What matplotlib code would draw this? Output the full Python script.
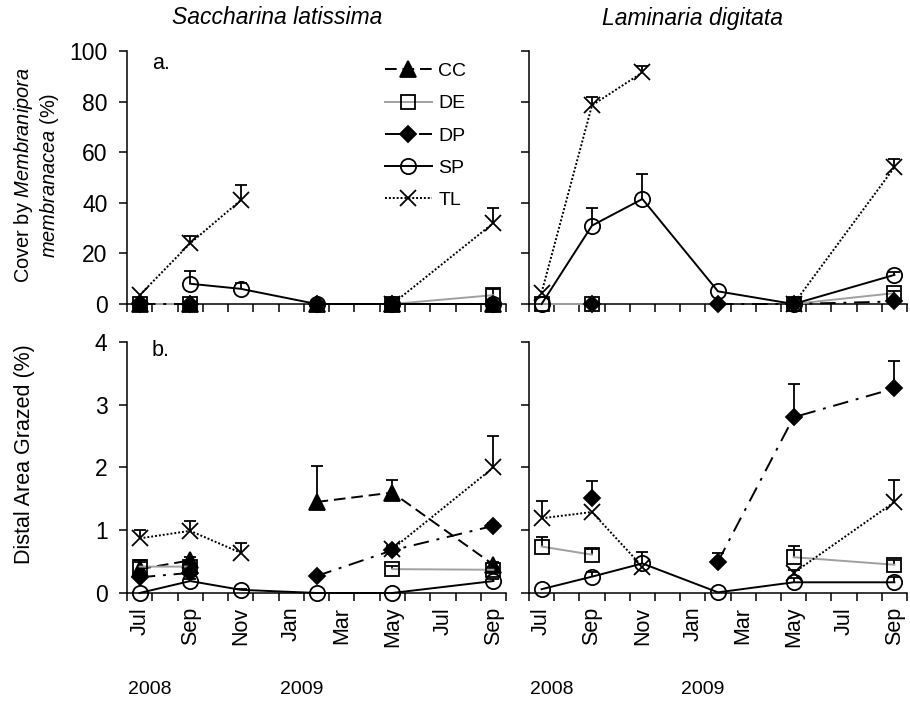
import numpy as np
import matplotlib.pyplot as plt
import matplotlib.transforms as mtransforms
from matplotlib.lines import Line2D

plt.rcParams['font.family'] = ['Liberation Sans', 'DejaVu Sans']
plt.rcParams['mathtext.fontset'] = 'custom'
plt.rcParams['mathtext.rm'] = 'Liberation Sans'
plt.rcParams['mathtext.it'] = 'Liberation Sans:italic'

nan = np.nan

# sampling dates, months after Jul 2008
months = [0, 2, 4, 7, 10, 14]
month_labels = ['Jul', 'Sep', 'Nov', 'Jan', 'Mar', 'May', 'Jul', 'Sep']
years = ['2008', '2009']
year_pos = [0.4, 6.4]
species = ['Saccharina latissima', 'Laminaria digitata']
treatments = ['CC', 'DE', 'DP', 'SP', 'TL']

# cover by Membranipora (%) - mean and upper error
cover_sl = {
    'CC': [0, 0, nan, 0, 0, 0],
    'DE': [0, 0, nan, nan, 0, 3.5],
    'DP': [0, 0, nan, 0, 0, 0],
    'SP': [nan, 8, 6, 0, 0, 0],
    'TL': [3.5, 24, 41, nan, 0, 32],
}
cover_sl_err = {
    'CC': [0, 0, 0, 0, 0, 0],
    'DE': [0, 0, 0, 0, 0, 2.5],
    'DP': [0, 0, 0, 0, 0, 0],
    'SP': [0, 5, 2.3, 0, 0, 0],
    'TL': [0, 3, 6, 0, 0, 6],
}
cover_ld = {
    'CC': [nan, nan, nan, nan, nan, nan],
    'DE': [0, 0, nan, nan, 0, 4.3],
    'DP': [nan, 0, nan, 0, 0, 1],
    'SP': [0, 31, 41.5, 5, 0, 11.5],
    'TL': [4.5, 78.5, 91.5, nan, 0, 54],
}
cover_ld_err = {
    'CC': [0, 0, 0, 0, 0, 0],
    'DE': [0, 0, 0, 0, 0, 1],
    'DP': [0, 0, 0, 0, 0, 0],
    'SP': [0, 7, 10, 0, 0, 1],
    'TL': [0, 3.5, 2.5, 0, 0, 3.5],
}

# distal area grazed (%)
grazed_sl = {
    'CC': [0.38, 0.52, nan, 1.45, 1.6, 0.45],
    'DE': [0.42, 0.42, nan, nan, 0.38, 0.37],
    'DP': [0.25, 0.32, nan, 0.27, 0.68, 1.07],
    'SP': [0, 0.19, 0.05, 0, 0, 0.19],
    'TL': [0.87, 0.99, 0.64, nan, 0.7, 2.0],
}
grazed_sl_err = {
    'CC': [0.15, 0.05, 0, 0.57, 0.2, 0.05],
    'DE': [0.08, 0.05, 0, 0, 0.05, 0.05],
    'DP': [0.05, 0.05, 0, 0.03, 0.05, 0.05],
    'SP': [0, 0.03, 0.02, 0, 0, 0.03],
    'TL': [0.14, 0.15, 0.15, 0, 0.05, 0.5],
}
grazed_ld = {
    'CC': [nan, nan, nan, nan, nan, nan],
    'DE': [0.74, 0.61, nan, nan, 0.57, 0.45],
    'DP': [nan, 1.52, nan, 0.5, 2.8, 3.26],
    'SP': [0.06, 0.26, 0.47, 0.01, 0.17, 0.17],
    'TL': [1.19, 1.29, 0.42, nan, 0.32, 1.45],
}
grazed_ld_err = {
    'CC': [0, 0, 0, 0, 0, 0],
    'DE': [0.15, 0.09, 0, 0, 0.18, 0.08],
    'DP': [0, 0.27, 0, 0.14, 0.53, 0.43],
    'SP': [0, 0.08, 0.18, 0, 0.07, 0.08],
    'TL': [0.28, 0, 0, 0, 0.05, 0.35],
}

styles = {
    'CC': dict(color='black', ls=(0, (6, 3)), marker='^', ms=11, mfc='black', mec='black'),
    'DE': dict(color='#a0a0a0', ls='-', marker='s', ms=10, mfc='none', mec='black'),
    'DP': dict(color='black', ls=(0, (8, 4, 1.5, 4)), marker='D', ms=8, mfc='black', mec='black'),
    'SP': dict(color='black', ls='-', marker='o', ms=11, mfc='none', mec='black'),
    'TL': dict(color='black', ls=(0, (1, 1)), marker='x', ms=11, mfc='none', mec='black'),
}


def draw(ax, vals, errs):
    x = np.array(months, dtype=float)
    for t in treatments:
        y = np.array(vals[t], dtype=float)
        e = np.array(errs[t], dtype=float)
        st = styles[t]
        ax.plot(x, y, lw=1.4, mew=1.3, clip_on=False, zorder=3, **st)
        m = (e > 0) & ~np.isnan(y)
        ax.vlines(x[m], y[m], y[m] + e[m], color='black', lw=1.3, zorder=2)
        ax.plot(x[m], y[m] + e[m], ls='none', marker='_', ms=9, mew=1.3,
                color='black', zorder=2)


def style_axis(ax, bottom_labels):
    for s in ['top', 'right']:
        ax.spines[s].set_visible(False)
    ax.set_xlim(-0.5, 14.5)
    ax.set_xticks(np.arange(-0.5, 15, 1), minor=True)
    ax.set_xticks(np.arange(0, 15, 2))
    ax.tick_params(axis='x', which='major', length=0, pad=10)
    ax.tick_params(axis='x', which='minor', length=6, width=1.1, direction='out')
    ax.tick_params(axis='y', length=6, width=1.1, direction='out', labelsize=16.5, pad=8)
    if bottom_labels:
        ax.set_xticklabels(month_labels, rotation=90, fontsize=15.5)
    else:
        ax.set_xticklabels([])
    for s in ['left', 'bottom']:
        ax.spines[s].set_linewidth(1.1)


fig = plt.figure(figsize=(9.1, 7.06), dpi=100)
ax_tl = fig.add_axes([0.1396, 0.5694, 0.4165, 0.3584])
ax_tr = fig.add_axes([0.5813, 0.5694, 0.4154, 0.3584])
ax_bl = fig.add_axes([0.1396, 0.1601, 0.4165, 0.3555])
ax_br = fig.add_axes([0.5813, 0.1601, 0.4154, 0.3555])

draw(ax_tl, cover_sl, cover_sl_err)
draw(ax_tr, cover_ld, cover_ld_err)
draw(ax_bl, grazed_sl, grazed_sl_err)
draw(ax_br, grazed_ld, grazed_ld_err)

for ax in [ax_tl, ax_tr]:
    ax.set_ylim(0, 100)
    ax.set_yticks(np.arange(0, 101, 20))
    style_axis(ax, False)
for ax in [ax_bl, ax_br]:
    ax.set_ylim(0, 4)
    ax.set_yticks(np.arange(0, 5, 1))
    style_axis(ax, True)
for ax in [ax_tr, ax_br]:
    ax.set_yticklabels([])

ax_tl.text(0.066, 0.95, 'a.', transform=ax_tl.transAxes, fontsize=15.5, va='center')
ax_bl.text(0.066, 0.968, 'b.', transform=ax_bl.transAxes, fontsize=15.5, va='center')

handles = [Line2D([], [], lw=1.4, mew=1.3, **styles[t]) for t in treatments]
ax_tl.legend(handles, treatments, loc='upper left', bbox_to_anchor=(0.66, 0.985),
             frameon=False, fontsize=14, handlelength=2.4, labelspacing=0.75,
             handletextpad=0.35, borderaxespad=0, numpoints=1)

fig.text(277 / 910, 1 - 18 / 706, species[0], style='italic', fontsize=16.5,
         ha='center', va='center')
fig.text(692 / 910, 1 - 18 / 706, species[1], style='italic', fontsize=16.5,
         ha='center', va='center')

fig.text(0.04, 0.752, 'Cover by $\\it{Membranipora}$\n$\\it{membranacea}$ (%)',
         rotation=90, ha='center', va='center', fontsize=14.4, multialignment='center')
fig.text(0.027, 0.357, 'Distal Area Grazed (%)', rotation=90, ha='center',
         va='center', fontsize=15.5)

# year labels under the month axis
for ax in [ax_bl, ax_br]:
    trans = mtransforms.blended_transform_factory(ax.transData, fig.transFigure)
    for xpos, yr in zip(year_pos, years):
        ax.text(xpos, 1 - 690 / 706, yr, transform=trans, fontsize=14,
                family=['Liberation Sans Narrow', 'Liberation Sans'],
                ha='center', va='center')

fig.savefig('out.png', dpi=100)
